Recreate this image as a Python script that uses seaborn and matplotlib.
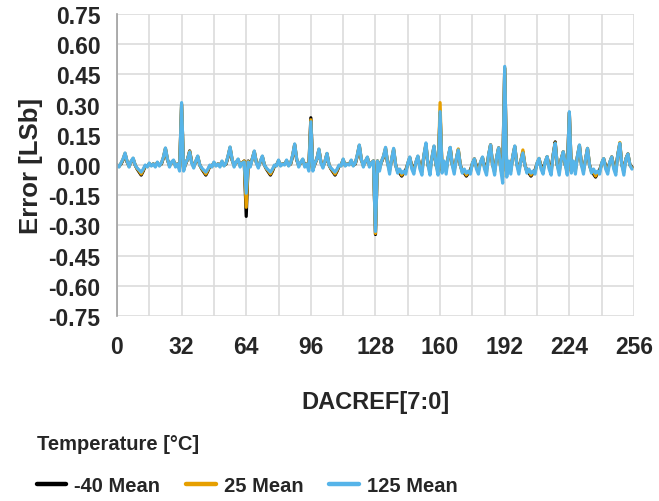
import matplotlib
matplotlib.use("Agg")
import matplotlib.pyplot as plt
import numpy as np
import pandas as pd
import seaborn as sns

# DAC code axis (0..255)
codigos = np.arange(256)

# -40 Mean
serie_m40 = [
    0.00, -0.005, 0.005, 0.025, 0.055, 0.015, -0.005, 0.015, 0.03, 0.0, -0.02, -0.035, -0.05, -0.03, -0.005, -0.005,
    0.005, 0.0, 0.005, 0.0, 0.01, 0.0, 0.005, 0.035, 0.08, 0.025, 0.0, 0.01, 0.02, 0.0, 0.005, -0.01,
    0.30, -0.02, 0.005, 0.03, 0.07, 0.015, -0.005, 0.015, 0.04, 0.0, -0.02, -0.035, -0.05, -0.03, -0.005, -0.005,
    0.01, 0.0, 0.005, 0.0, 0.015, 0.0, 0.005, 0.04, 0.085, 0.025, 0.0, 0.01, 0.025, 0.0, 0.01, 0.02,
    -0.255, 0.02, 0.0, 0.03, 0.065, 0.015, -0.005, 0.015, 0.04, 0.0, -0.02, -0.035, -0.05, -0.03, -0.005, 0.0,
    0.02, 0.0, 0.005, 0.005, 0.02, 0.0, 0.005, 0.045, 0.10, 0.025, 0.0, 0.01, 0.025, 0.0, 0.005, -0.01,
    0.235, -0.02, 0.005, 0.03, 0.075, 0.015, -0.005, 0.015, 0.055, 0.0, -0.02, -0.035, -0.05, -0.03, -0.005, 0.0,
    0.025, 0.0, 0.005, 0.005, 0.02, 0.0, 0.005, 0.045, 0.095, 0.025, 0.0, 0.015, 0.035, 0.0, 0.01, 0.02,
    -0.345, 0.02, -0.01, 0.015, 0.04, 0.08, 0.01, -0.02, 0.025, 0.075, 0.0, -0.03, -0.04, -0.055, -0.04, -0.025,
    0.005, 0.035, -0.005, -0.015, 0.01, 0.04, -0.005, -0.02, 0.045, 0.10, 0.0, -0.02, 0.035, 0.09, 0.0, -0.02,
    0.26, -0.03, 0.01, -0.02, 0.035, 0.085, 0.005, -0.02, 0.025, 0.075, 0.0, -0.03, -0.04, -0.055, -0.04, -0.025,
    0.005, 0.03, -0.005, -0.015, 0.01, 0.035, -0.005, -0.02, 0.045, 0.10, 0.0, -0.02, 0.035, 0.085, -0.01, -0.03,
    0.48, -0.03, 0.01, -0.02, 0.04, 0.09, 0.005, -0.02, 0.02, 0.065, 0.0, -0.03, -0.04, -0.055, -0.04, -0.025,
    0.005, 0.03, -0.005, -0.015, 0.01, 0.04, -0.005, -0.02, 0.05, 0.115, 0.0, -0.02, 0.03, 0.065, 0.0, -0.02,
    0.26, -0.03, 0.01, -0.02, 0.04, 0.095, 0.005, -0.02, 0.025, 0.08, 0.0, -0.03, -0.045, -0.06, -0.04, -0.025,
    0.005, 0.03, -0.005, -0.015, 0.01, 0.04, -0.005, -0.02, 0.05, 0.105, 0.0, -0.02, 0.03, 0.055, 0.0, -0.01,
]

# 25 Mean
serie_25 = [
    0.00, -0.008, 0.008, 0.028, 0.058, 0.018, -0.008, 0.018, 0.033, 0.0, -0.018, -0.03, -0.045, -0.025, -0.003, -0.008,
    0.008, -0.003, 0.005, -0.005, 0.012, -0.003, 0.008, 0.038, 0.083, 0.028, -0.005, 0.012, 0.022, -0.005, 0.005, -0.02,
    0.305, -0.025, 0.008, 0.03, 0.068, 0.013, -0.01, 0.018, 0.043, 0.0, -0.018, -0.03, -0.045, -0.025, -0.003, -0.008,
    0.012, -0.003, 0.005, -0.005, 0.018, -0.003, 0.008, 0.043, 0.088, 0.028, -0.005, 0.012, 0.028, -0.005, 0.01, 0.02,
    -0.21, 0.018, -0.005, 0.03, 0.068, 0.013, -0.01, 0.018, 0.043, 0.0, -0.018, -0.03, -0.045, -0.025, -0.003, -0.003,
    0.022, -0.003, 0.005, 0.003, 0.022, -0.003, 0.008, 0.048, 0.103, 0.028, -0.005, 0.012, 0.028, -0.005, 0.005, -0.02,
    0.225, -0.025, 0.008, 0.03, 0.078, 0.013, -0.01, 0.018, 0.057, 0.0, -0.018, -0.03, -0.045, -0.025, -0.003, -0.003,
    0.028, -0.003, 0.005, 0.003, 0.022, -0.003, 0.008, 0.048, 0.098, 0.028, -0.005, 0.018, 0.038, -0.005, 0.01, 0.02,
    -0.34, 0.02, -0.02, 0.018, 0.043, 0.085, 0.01, -0.03, 0.028, 0.08, 0.0, -0.035, -0.03, -0.05, -0.035, -0.035,
    0.008, 0.038, -0.012, -0.03, 0.012, 0.043, -0.012, -0.035, 0.048, 0.105, 0.0, -0.035, 0.038, 0.093, 0.0, -0.035,
    0.31, -0.035, 0.015, -0.03, 0.038, 0.087, 0.003, -0.03, 0.028, 0.08, 0.0, -0.035, -0.03, -0.05, -0.035, -0.035,
    0.008, 0.03, -0.012, -0.03, 0.012, 0.038, -0.012, -0.035, 0.048, 0.10, 0.0, -0.035, 0.038, 0.085, -0.015, -0.06,
    0.485, -0.045, 0.015, -0.03, 0.043, 0.093, 0.003, -0.03, 0.02, 0.075, 0.0, -0.035, -0.03, -0.05, -0.035, -0.035,
    0.008, 0.033, -0.012, -0.03, 0.012, 0.042, -0.012, -0.035, 0.05, 0.11, 0.0, -0.035, 0.03, 0.066, 0.0, -0.035,
    0.26, -0.035, 0.015, -0.03, 0.043, 0.098, 0.003, -0.03, 0.028, 0.083, 0.0, -0.035, -0.035, -0.055, -0.035, -0.035,
    0.008, 0.032, -0.012, -0.03, 0.012, 0.04, -0.012, -0.035, 0.05, 0.112, 0.0, -0.035, 0.03, 0.055, 0.0, -0.015,
]

# 125 Mean
serie_125 = [
    0.00, -0.01, 0.01, 0.03, 0.06, 0.02, -0.01, 0.02, 0.035, 0.00, -0.015, -0.025, -0.035, -0.02, 0.00, -0.01,
    0.01, -0.005, 0.005, -0.01, 0.015, -0.005, 0.01, 0.04, 0.085, 0.03, -0.01, 0.015, 0.025, -0.01, 0.005, -0.03,
    0.31, -0.03, 0.01, 0.03, 0.065, 0.01, -0.015, 0.02, 0.045, 0.00, -0.015, -0.025, -0.035, -0.02, 0.00, -0.01,
    0.015, -0.005, 0.005, -0.01, 0.02, -0.005, 0.01, 0.045, 0.09, 0.03, -0.01, 0.015, 0.03, -0.01, 0.01, 0.015,
    -0.14, 0.015, -0.01, 0.03, 0.07, 0.01, -0.015, 0.02, 0.045, 0.00, -0.015, -0.025, -0.035, -0.02, 0.00, -0.005,
    0.025, -0.005, 0.005, 0.0, 0.025, -0.005, 0.01, 0.05, 0.105, 0.03, -0.01, 0.015, 0.03, -0.01, 0.005, -0.03,
    0.215, -0.03, 0.01, 0.03, 0.08, 0.01, -0.015, 0.02, 0.058, 0.00, -0.015, -0.025, -0.035, -0.02, 0.00, -0.005,
    0.03, -0.005, 0.005, 0.0, 0.025, -0.005, 0.01, 0.05, 0.10, 0.03, -0.01, 0.02, 0.04, -0.01, 0.01, 0.02,
    -0.33, 0.02, -0.03, 0.02, 0.045, 0.088, 0.01, -0.045, 0.03, 0.083, 0.0, -0.04, -0.02, -0.04, -0.03, -0.045,
    0.01, 0.04, -0.02, -0.045, 0.015, 0.045, -0.02, -0.05, 0.05, 0.11, 0.0, -0.05, 0.04, 0.095, 0.0, -0.05,
    0.265, -0.04, 0.02, -0.045, 0.04, 0.088, 0.0, -0.045, 0.03, 0.075, 0.0, -0.04, -0.02, -0.04, -0.03, -0.045,
    0.01, 0.03, -0.02, -0.045, 0.015, 0.04, -0.02, -0.05, 0.05, 0.10, 0.0, -0.05, 0.04, 0.085, -0.02, -0.09,
    0.49, -0.06, 0.02, -0.045, 0.045, 0.095, 0.0, -0.045, 0.02, 0.06, 0.0, -0.04, -0.02, -0.04, -0.03, -0.045,
    0.01, 0.033, -0.02, -0.045, 0.015, 0.042, -0.02, -0.05, 0.05, 0.108, 0.0, -0.05, 0.03, 0.066, 0.0, -0.05,
    0.265, -0.04, 0.02, -0.045, 0.045, 0.10, 0.0, -0.045, 0.03, 0.083, 0.0, -0.04, -0.02, -0.04, -0.03, -0.045,
    0.01, 0.032, -0.02, -0.045, 0.015, 0.04, -0.02, -0.05, 0.05, 0.108, 0.0, -0.05, 0.03, 0.055, 0.0, -0.02,
]

etiquetas = ["-40 Mean", "25 Mean", "125 Mean"]
colores = ["#000000", "#E69F00", "#56B4E9"]
ticks_x = [0, 32, 64, 96, 128, 160, 192, 224, 256]
ticks_y = [0.75, 0.60, 0.45, 0.30, 0.15, 0.00, -0.15, -0.30, -0.45, -0.60, -0.75]

df = pd.DataFrame({
    "codigo": np.concatenate([codigos, codigos, codigos]),
    "error": serie_m40 + serie_25 + serie_125,
    "temp": np.repeat(etiquetas, len(codigos)),
})

sns.set_style("white")
plt.rcParams["font.family"] = ["Liberation Sans", "DejaVu Sans"]
plt.rcParams["font.weight"] = "bold"

fig, ax = plt.subplots(figsize=(6.59, 5.02), dpi=100)
fig.subplots_adjust(left=0.1775, right=0.962, top=0.970, bottom=0.3685)

sns.lineplot(
    data=df, x="codigo", y="error", hue="temp", hue_order=etiquetas,
    palette=dict(zip(etiquetas, colores)), linewidth=2.3, ax=ax,
)

ax.set_xlim(0, 256)
ax.set_ylim(-0.75, 0.75)
ax.set_xticks(ticks_x)
ax.set_xticks(range(16, 256, 32), minor=True)
ax.set_yticks(ticks_y)
ax.set_yticklabels([f"{v:.2f}" for v in ticks_y])
ax.grid(True, which="both", color="#dcdcdc", linewidth=1.2)
ax.tick_params(axis="y", length=9, color="#a0a0a0", width=1.2, labelsize=16.5, pad=3)
ax.tick_params(axis="x", which="both", length=0, labelsize=16.5, pad=14)
for lado in ["top", "right", "bottom"]:
    ax.spines[lado].set_visible(False)
ax.spines["left"].set_color("#a0a0a0")
ax.spines["left"].set_linewidth(1.2)

ax.set_xlabel("DACREF[7:0]", fontsize=17, fontweight="bold", labelpad=23)
ax.set_ylabel("Error [LSb]", fontsize=18.5, fontweight="bold", labelpad=4)

handles, labels = ax.get_legend_handles_labels()
ax.get_legend().remove()
for h in handles:
    h.set_linewidth(3.2)
fig.legend(
    handles, labels, loc="upper left", bbox_to_anchor=(0.056, 0.133), ncol=3,
    frameon=False, title="Temperature [°C]", alignment="left",
    title_fontproperties={"weight": "bold", "size": 14.5},
    prop={"weight": "bold", "size": 14.5}, handlelength=1.45, handletextpad=0.4,
    columnspacing=1.3, borderpad=0, borderaxespad=0, labelspacing=1.15,
)

fig.savefig("out.png", dpi=100)
